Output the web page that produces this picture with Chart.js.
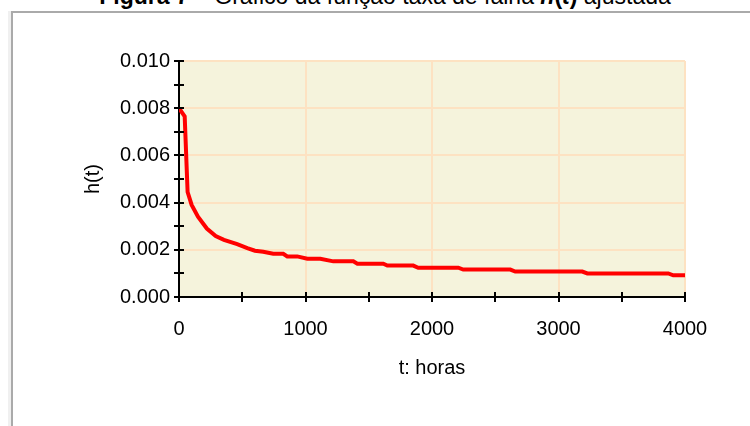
<!DOCTYPE html>
<html>
<head>
<meta charset="utf-8">
<script src="https://cdn.jsdelivr.net/npm/chart.js@4"></script>
<style>
  html, body { margin: 0; padding: 0; background: #fff; overflow: hidden; }
  #wrap { position: relative; width: 750px; height: 426px; }
  #caption { position: absolute; left: 0; width: 770px; top: -17px; text-align: center;
             font-family: "Liberation Sans", Arial, sans-serif; font-size: 23px; color: #000; white-space: nowrap; }
  #frame { position: absolute; left: 11px; top: 11px; width: 800px; height: 500px;
           border-left: 2px solid #aaa; border-top: 2px solid #aaa; box-shadow: -3px 0 0 #f0f0f0; }
  #chart { position: absolute; left: 0; top: 0; }
</style>
</head>
<body>
<div id="wrap">
  <div id="caption"><b>Figura 7</b> – Gráfico da função taxa de falha <b><i>h</i>(<i>t</i>)</b> ajustada</div>
  <div id="frame"></div>
  <canvas id="chart" width="750" height="426"></canvas>
</div>
<script>
// --- DONNÉES ---
const tHoras = [0, 45, 68, 100, 150, 220, 290, 355, 460, 540, 600, 666, 745, 824, 856, 935,
                1014, 1117, 1220, 1378, 1410, 1615, 1647, 1852, 1891, 2208, 2247, 2619,
                2658, 3188, 3228, 3868, 3907, 4000];
const hValues = [0.0080, 0.00765, 0.00445, 0.0039, 0.0034, 0.0029, 0.00258, 0.00242, 0.00224, 0.00207,
                 0.00196, 0.00192, 0.00183, 0.00183, 0.00172, 0.00172,
                 0.00162, 0.00162, 0.00151, 0.00151, 0.00141, 0.00141, 0.00133, 0.00133,
                 0.00124, 0.00124, 0.00116, 0.00116, 0.00108, 0.00108, 0.00100, 0.00100,
                 0.00092, 0.00092];
const xMajorTicks = [0, 1000, 2000, 3000, 4000];
const yMajorTicks = ['0.000', '0.002', '0.004', '0.006', '0.008', '0.010'];

const FONT = { family: "'Liberation Sans', Arial, sans-serif", size: 20 };
const GRID_COLOR = '#fde2c2';

// fond beige de la zone de tracé
const plotBackground = {
    id: 'plotBackground',
    beforeDraw(chart) {
        const { ctx, chartArea: a } = chart;
        ctx.save();
        ctx.fillStyle = '#f5f3dc';
        ctx.fillRect(a.left, a.top, a.right - a.left, a.bottom - a.top);
        ctx.restore();
    }
};

// petits traits qui traversent les axes (majeurs + mineurs)
const crossTicks = {
    id: 'crossTicks',
    afterDraw(chart) {
        const { ctx, chartArea: a, scales } = chart;
        ctx.save();
        ctx.strokeStyle = '#000';
        ctx.lineWidth = 2;
        ctx.beginPath();
        scales.x.ticks.forEach(t => {
            const px = Math.round(scales.x.getPixelForValue(t.value));
            ctx.moveTo(px, a.bottom - 5);
            ctx.lineTo(px, a.bottom + 5);
        });
        scales.y.ticks.forEach(t => {
            const py = Math.round(scales.y.getPixelForValue(t.value));
            ctx.moveTo(a.left - 5, py);
            ctx.lineTo(a.left + 5, py);
        });
        ctx.stroke();
        ctx.restore();
    }
};

const isMajorX = v => xMajorTicks.includes(Math.round(v));
const isMajorY = v => Math.round(v * 1000) % 2 === 0;

new Chart(document.getElementById('chart').getContext('2d'), {
    type: 'line',
    data: {
        datasets: [{
            data: tHoras.map((t, i) => ({ x: t, y: hValues[i] })),
            borderColor: '#ff0000',
            borderWidth: 4,
            pointRadius: 0,
            tension: 0,
            fill: false
        }]
    },
    options: {
        responsive: false,
        animation: false,
        layout: { padding: { left: 81, right: 65, top: 61, bottom: 46 } },
        plugins: { legend: { display: false }, tooltip: { enabled: false } },
        scales: {
            x: {
                type: 'linear', min: 0, max: 4000,
                afterFit: s => { s.height = 83; },
                border: { color: '#000', width: 2 },
                grid: { drawTicks: false, lineWidth: 2,
                        color: c => (c.tick && isMajorX(c.tick.value) && c.tick.value > 0) ? GRID_COLOR : 'rgba(0,0,0,0)' },
                ticks: { stepSize: 500, padding: 20, color: '#000', font: FONT, maxRotation: 0,
                         autoSkip: false,
                         callback: v => isMajorX(v) ? String(Math.round(v)) : '' },
                title: { display: true, text: 't: horas', color: '#000', font: FONT, padding: 0 }
            },
            y: {
                type: 'linear', min: 0, max: 0.01,
                afterFit: s => { s.width = 98; },
                border: { color: '#000', width: 2 },
                grid: { drawTicks: false, lineWidth: 2,
                        color: c => (c.tick && isMajorY(c.tick.value) && c.tick.value > 0) ? GRID_COLOR : 'rgba(0,0,0,0)' },
                ticks: { stepSize: 0.001, padding: 9, color: '#000', font: FONT, autoSkip: false,
                         callback: v => isMajorY(v) ? yMajorTicks[Math.round(v * 500)] : '' },
                title: { display: true, text: 'h(t)', color: '#000', font: FONT, padding: 0 }
            }
        }
    },
    plugins: [plotBackground, crossTicks]
});
</script>
</body>
</html>
